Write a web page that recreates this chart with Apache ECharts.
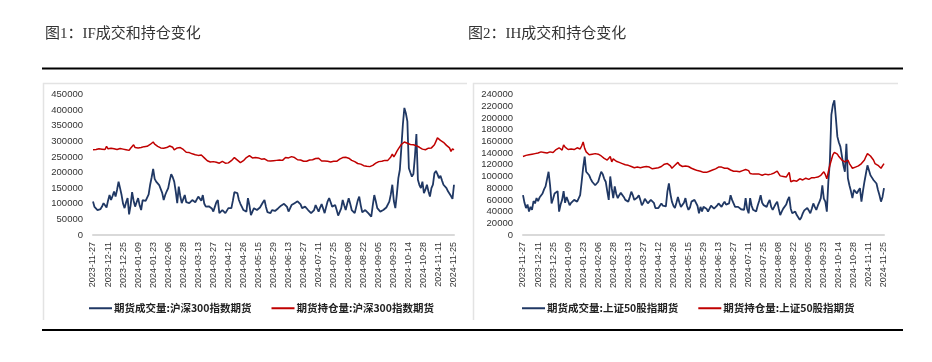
<!DOCTYPE html>
<html><head><meta charset="utf-8">
<script src="https://cdn.jsdelivr.net/npm/echarts@6/dist/echarts.min.js"></script>
<style>html,body{margin:0;padding:0;background:#fff}#c{width:932px;height:362px}</style>
</head><body><div id="c"></div>
<script>
const dates = ["2023-11-27","2023-11-28","2023-11-29","2023-11-30","2023-12-01","2023-12-04","2023-12-05","2023-12-06","2023-12-07","2023-12-08","2023-12-11","2023-12-12","2023-12-13","2023-12-14","2023-12-15","2023-12-18","2023-12-19","2023-12-20","2023-12-21","2023-12-22","2023-12-25","2023-12-26","2023-12-27","2023-12-28","2023-12-29",
"2024-01-02","2024-01-03","2024-01-04","2024-01-05","2024-01-08","2024-01-09","2024-01-10","2024-01-11","2024-01-12","2024-01-15","2024-01-16","2024-01-17","2024-01-18","2024-01-19","2024-01-22","2024-01-23","2024-01-24","2024-01-25","2024-01-26","2024-01-29","2024-01-30","2024-01-31",
"2024-02-01","2024-02-02","2024-02-05","2024-02-06","2024-02-07","2024-02-08","2024-02-19","2024-02-20","2024-02-21","2024-02-22","2024-02-23","2024-02-26","2024-02-27","2024-02-28","2024-02-29",
"2024-03-01","2024-03-04","2024-03-05","2024-03-06","2024-03-07","2024-03-08","2024-03-11","2024-03-12","2024-03-13","2024-03-14","2024-03-15","2024-03-18","2024-03-19","2024-03-20","2024-03-21","2024-03-22","2024-03-25","2024-03-26","2024-03-27","2024-03-28","2024-03-29",
"2024-04-01","2024-04-02","2024-04-03","2024-04-08","2024-04-09","2024-04-10","2024-04-11","2024-04-12","2024-04-15","2024-04-16","2024-04-17","2024-04-18","2024-04-19","2024-04-22","2024-04-23","2024-04-24","2024-04-25","2024-04-26","2024-04-29","2024-04-30",
"2024-05-06","2024-05-07","2024-05-08","2024-05-09","2024-05-10","2024-05-13","2024-05-14","2024-05-15","2024-05-16","2024-05-17","2024-05-20","2024-05-21","2024-05-22","2024-05-23","2024-05-24","2024-05-27","2024-05-28","2024-05-29","2024-05-30","2024-05-31",
"2024-06-03","2024-06-04","2024-06-05","2024-06-06","2024-06-07","2024-06-11","2024-06-12","2024-06-13","2024-06-14","2024-06-17","2024-06-18","2024-06-19","2024-06-20","2024-06-21","2024-06-24","2024-06-25","2024-06-26","2024-06-27","2024-06-28",
"2024-07-01","2024-07-02","2024-07-03","2024-07-04","2024-07-05","2024-07-08","2024-07-09","2024-07-10","2024-07-11","2024-07-12","2024-07-15","2024-07-16","2024-07-17","2024-07-18","2024-07-19","2024-07-22","2024-07-23","2024-07-24","2024-07-25","2024-07-26","2024-07-29","2024-07-30","2024-07-31",
"2024-08-01","2024-08-02","2024-08-05","2024-08-06","2024-08-07","2024-08-08","2024-08-09","2024-08-12","2024-08-13","2024-08-14","2024-08-15","2024-08-16","2024-08-19","2024-08-20","2024-08-21","2024-08-22","2024-08-23","2024-08-26","2024-08-27","2024-08-28","2024-08-29","2024-08-30",
"2024-09-02","2024-09-03","2024-09-04","2024-09-05","2024-09-06","2024-09-09","2024-09-10","2024-09-11","2024-09-12","2024-09-13","2024-09-18","2024-09-19","2024-09-20","2024-09-23","2024-09-24","2024-09-25","2024-09-26","2024-09-27","2024-09-30",
"2024-10-08","2024-10-09","2024-10-10","2024-10-11","2024-10-14","2024-10-15","2024-10-16","2024-10-17","2024-10-18","2024-10-21","2024-10-22","2024-10-23","2024-10-24","2024-10-25","2024-10-28","2024-10-29","2024-10-30","2024-10-31",
"2024-11-01","2024-11-04","2024-11-05","2024-11-06","2024-11-07","2024-11-08","2024-11-11","2024-11-12","2024-11-13","2024-11-14","2024-11-15","2024-11-18","2024-11-19","2024-11-20","2024-11-21","2024-11-22","2024-11-25"];

const ifVolume = [107000,90000,84000,80000,77000,83000,91000,102000,95000,88000,
110000,128000,112000,125000,139000,123000,145000,171000,150000,128000,
100000,86000,105000,118000,66000,95000,137000,110000,91000,105000,
118000,95000,80000,112000,107000,109000,107000,130000,161000,185000,
212000,180000,171000,169000,160000,155000,135000,112000,128000,140000,
150000,175000,195000,185000,171000,140000,102000,155000,125000,102000,
115000,128000,105000,108000,102000,107000,112000,110000,105000,107000,
123000,118000,110000,128000,100000,91000,86000,92000,96000,85000,
75000,90000,105000,112000,70000,76000,80000,74000,70000,78000,
86000,85000,86000,110000,137000,135000,134000,112000,100000,90000,
80000,78000,75000,118000,95000,64000,75000,86000,84000,80000,
80000,88000,94000,105000,112000,90000,73000,72000,70000,80000,
80000,77000,75000,85000,91000,94000,98000,100000,102000,90000,
75000,85000,96000,99000,102000,106000,108000,112000,98000,86000,
88000,91000,86000,80000,74000,70000,66000,80000,96000,85000,
75000,88000,99000,85000,70000,90000,108000,118000,105000,91000,
94000,96000,80000,62000,56000,85000,112000,95000,80000,100000,
118000,100000,80000,75000,70000,90000,110000,123000,95000,73000,
77000,80000,75000,70000,64000,59000,95000,128000,108000,86000,
80000,75000,78000,80000,85000,88000,91000,107000,130000,161000,
109000,86000,130000,182000,209000,280000,353000,407000,390000,364000,
214000,200000,187000,195000,250000,323000,177000,160000,150000,171000,
134000,145000,161000,140000,123000,150000,161000,198000,205000,195000,
182000,190000,175000,161000,166000,150000,140000,137000,125000,116000,
161000];

const ifOpenInterest = [273000,270000,274000,268000,276000,271000,275000,279000,274000,284000,
276000,272000,278000,273000,276000,270000,274000,280000,277000,272000,
275000,279000,273000,276000,271000,278000,281000,289000,280000,276000,
279000,275000,280000,277000,283000,279000,284000,287000,290000,293000,
298000,291000,287000,284000,281000,279000,275000,278000,276000,280000,
283000,285000,287000,281000,273000,276000,279000,277000,280000,281000,
274000,268000,265000,262000,264000,261000,260000,258000,257000,256000,
255000,253000,256000,255000,247000,241000,238000,236000,234000,237000,
235000,236000,233000,235000,230000,232000,236000,233000,230000,234000,
231000,232000,238000,244000,248000,243000,240000,236000,232000,235000,
238000,242000,248000,252000,254000,249000,247000,246000,248000,245000,
247000,244000,243000,241000,244000,240000,238000,236000,237000,238000,
238000,240000,239000,241000,240000,242000,239000,243000,248000,250000,
247000,249000,251000,252000,248000,243000,241000,244000,240000,238000,
236000,233000,236000,238000,240000,237000,241000,243000,245000,243000,
246000,240000,237000,235000,237000,234000,236000,235000,234000,233000,
236000,238000,236000,240000,243000,245000,248000,250000,249000,252000,
246000,243000,239000,238000,235000,232000,229000,225000,227000,224000,
222000,221000,220000,220000,219000,221000,223000,226000,230000,233000,
235000,237000,236000,238000,239000,241000,239000,242000,250000,259000,
250000,258000,268000,276000,283000,290000,293000,298000,297000,294000,
291000,290000,288000,289000,287000,286000,284000,281000,278000,275000,
270000,273000,276000,278000,275000,279000,284000,289000,300000,311000,
307000,303000,300000,297000,292000,287000,284000,279000,268000,276000,
273000];

const ihVolume = [68000,55000,46000,52000,40000,48000,43000,58000,54000,63000,
58000,64000,62000,71000,78000,83000,80000,108000,85000,54000,
62000,71000,68000,75000,40000,52000,60000,75000,55000,65000,
58000,51000,55000,57000,60000,62000,57000,57000,68000,91000,
115000,134000,108000,105000,102000,96000,91000,88000,85000,88000,
91000,100000,108000,104000,96000,91000,75000,60000,100000,80000,
63000,83000,70000,63000,68000,72000,74000,65000,60000,58000,
57000,65000,74000,68000,60000,60000,64000,68000,60000,51000,
55000,62000,58000,54000,57000,60000,63000,55000,46000,48000,
46000,50000,54000,50000,48000,49000,74000,88000,70000,57000,
50000,46000,55000,65000,55000,48000,49000,55000,63000,50000,
43000,47000,57000,55000,60000,63000,50000,37000,48000,40000,
48000,51000,45000,40000,45000,50000,48000,45000,43000,50000,
54000,52000,48000,53000,57000,52000,54000,54000,68000,60000,
54000,48000,46000,48000,48000,44000,42000,43000,63000,45000,
37000,63000,50000,43000,41000,40000,50000,58000,68000,55000,
51000,50000,48000,55000,60000,48000,43000,48000,53000,57000,
45000,34000,40000,45000,43000,52000,60000,65000,45000,37000,
40000,40000,34000,31000,26000,30000,37000,42000,45000,46000,
42000,37000,45000,54000,48000,43000,50000,56000,63000,85000,
62000,57000,40000,91000,125000,205000,222000,230000,200000,168000,
158000,151000,135000,119000,108000,156000,97000,85000,75000,63000,
77000,74000,71000,76000,80000,57000,75000,91000,105000,119000,
119000,102000,98000,94000,92000,88000,77000,68000,57000,65000,
80000];

const ihOpenInterest = [134000,131000,136000,133000,137000,134000,138000,136000,139000,137000,
140000,138000,142000,145000,141000,143000,140000,139000,142000,145000,
141000,143000,146000,147000,149000,146000,145000,154000,150000,147000,
146000,148000,147000,148000,146000,148000,149000,147000,147000,152000,
159000,148000,142000,140000,137000,139000,138000,140000,139000,137000,
138000,136000,135000,133000,131000,129000,128000,131000,134000,125000,
130000,128000,126000,125000,124000,123000,122000,121000,120000,121000,
119000,118000,117000,116000,115000,114000,116000,118000,115000,117000,
116000,114000,117000,115000,116000,114000,113000,115000,114000,116000,
115000,118000,117000,119000,121000,120000,122000,124000,118000,114000,
117000,119000,121000,124000,120000,118000,117000,116000,118000,116000,
117000,115000,114000,113000,112000,111000,110000,109000,109000,108000,
107000,105000,107000,108000,109000,110000,111000,111000,113000,115000,
116000,117000,116000,115000,114000,113000,114000,112000,111000,110000,
109000,110000,109000,108000,108000,109000,110000,111000,112000,113000,
110000,105000,106000,104000,105000,104000,103000,104000,103000,102000,
103000,104000,102000,103000,103000,104000,105000,106000,107000,109000,
105000,101000,102000,100000,101000,99000,103000,107000,91000,92000,
93000,91000,92000,94000,96000,95000,94000,95000,97000,96000,
95000,97000,98000,99000,98000,100000,99000,100000,102000,105000,
108000,103000,96000,108000,119000,128000,137000,141000,143000,138000,
134000,131000,128000,127000,125000,127000,128000,122000,118000,114000,
115000,116000,117000,118000,120000,122000,125000,128000,134000,139000,
137000,135000,134000,128000,122000,120000,119000,117000,114000,118000,
122000];

const chartTitles = ["图1：IF成交和持仓变化", "图2：IH成交和持仓变化"];
const ifNames = ["期货成交量:沪深300指数期货", "期货持仓量:沪深300指数期货"];
const ihNames = ["期货成交量:上证50股指期货", "期货持仓量:上证50股指期货"];
const ifAxis = {min: 0, max: 450000, interval: 50000};
const ihAxis = {min: 0, max: 240000, interval: 20000};

const BLUE = '#203864', RED = '#C00000';
const chart = echarts.init(document.getElementById('c'), null, {renderer: 'canvas'});

function xAxis(gi) {
  return {
    type: 'category', gridIndex: gi, data: dates, boundaryGap: false,
    axisLine: {lineStyle: {color: '#d9d9d9', width: 2}},
    axisTick: {show: false},
    axisLabel: {interval: 9, rotate: 90, margin: 7, fontSize: 9, color: '#333',
      fontFamily: 'Liberation Sans, Arial, sans-serif', padding: [8, 0, 0, 0]},
    splitLine: {show: false}
  };
}
function yAxis(gi, ax) {
  return {
    type: 'value', gridIndex: gi, min: ax.min, max: ax.max, interval: ax.interval,
    axisLine: {show: false}, axisTick: {show: false}, splitLine: {show: false},
    axisLabel: {margin: 10, fontSize: 9.5, color: '#333', fontFamily: 'Liberation Sans, Arial, sans-serif',
      formatter: function (v) { return String(v); }}
  };
}
function legend(left, names) {
  return {
    left: left, top: 298, data: names, icon: 'rect', itemWidth: 23, itemHeight: 2, itemGap: 20,
    textStyle: {fontSize: 10.5, color: '#222', fontWeight: 'bold', fontFamily: 'Noto Sans CJK SC, sans-serif', padding: [0,0,0,-3]}
  };
}
function line(name, data, gi, color, w) {
  return {name: name, type: 'line', xAxisIndex: gi, yAxisIndex: gi, data: data, showSymbol: false,
    symbol: 'none', lineStyle: {color: color, width: w}, itemStyle: {color: color}, animation: false};
}
const titleFont = {fontSize: 15, fill: '#333', fontFamily: 'Liberation Serif, Noto Sans CJK SC, serif'};
chart.setOption({
  animation: false,
  backgroundColor: '#fff',
  grid: [
    {left: 93, top: 94.5, width: 361, height: 140.5},
    {left: 523, top: 94.5, width: 361, height: 140.5}
  ],
  xAxis: [xAxis(0), xAxis(1)],
  yAxis: [yAxis(0, ifAxis), yAxis(1, ihAxis)],
  legend: [legend(84, ifNames), legend(517, ihNames)],
  series: [
    line(ifNames[0], ifVolume, 0, BLUE, 1.8),
    line(ifNames[1], ifOpenInterest, 0, RED, 1.5),
    line(ihNames[0], ihVolume, 1, BLUE, 1.8),
    line(ihNames[1], ihOpenInterest, 1, RED, 1.5)
  ],
  graphic: [
    {type: 'text', left: 45, top: 27, style: Object.assign({text: chartTitles[0]}, titleFont)},
    {type: 'text', left: 468, top: 27, style: Object.assign({text: chartTitles[1]}, titleFont)},
    {type: 'line', shape: {x1: 42, y1: 68.5, x2: 903, y2: 68.5}, style: {stroke: '#000', lineWidth: 2}},
    {type: 'line', shape: {x1: 42, y1: 330, x2: 903, y2: 330}, style: {stroke: '#000', lineWidth: 2}},
    {type: 'polyline', shape: {points: [[43.5, 320], [43.5, 83.5], [467, 83.5]]}, style: {stroke: '#e3e3e3', lineWidth: 1.5, fill: null}},
    {type: 'polyline', shape: {points: [[473.5, 320], [473.5, 83.5], [898, 83.5]]}, style: {stroke: '#e3e3e3', lineWidth: 1.5, fill: null}}
  ]
});
</script>
</body></html>
